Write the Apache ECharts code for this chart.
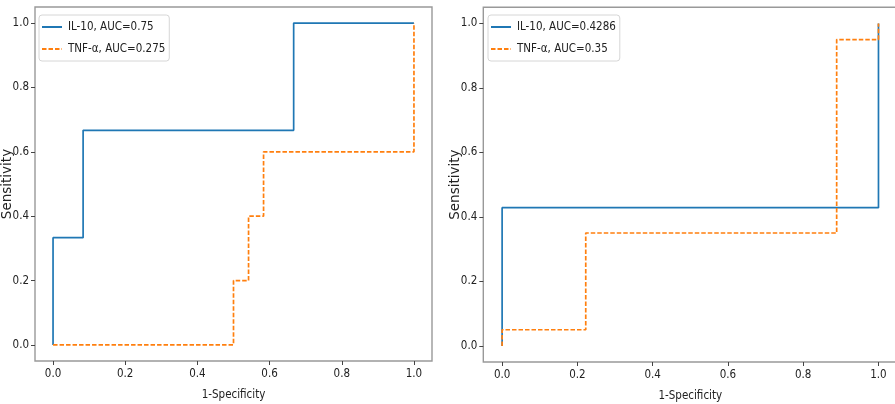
<!DOCTYPE html>
<html>
<head>
<meta charset="utf-8">
<script src="https://cdn.jsdelivr.net/npm/echarts@6/dist/echarts.min.js"></script>
<style>
html,body{margin:0;padding:0;background:#fff;}
#chart{width:895px;height:404px;}
</style>
</head>
<body>
<div id="chart"></div>
<script>
// ---- data (ROC vertices) ----
var leftIL10Fpr  = [0, 0,      0.0833, 0.0833, 0.6667, 0.6667, 1];
var leftIL10Tpr  = [0, 0.3333, 0.3333, 0.6667, 0.6667, 1,      1];
var leftTNFFpr   = [0, 0.5, 0.5, 0.5417, 0.5417, 0.5833, 0.5833, 1,   1];
var leftTNFTpr   = [0, 0,   0.2, 0.2,    0.4,    0.4,    0.6,    0.6, 1];
var rightIL10Fpr = [0, 0,      1,      1];
var rightIL10Tpr = [0, 0.4286, 0.4286, 1];
var rightTNFFpr  = [0, 0,    0.2222, 0.2222, 0.8889, 0.8889, 1,    1];
var rightTNFTpr  = [0, 0.05, 0.05,   0.35,   0.35,   0.95,   0.95, 1];
var leftNames  = ['IL-10, AUC=0.75', 'TNF-\u03b1, AUC=0.275'];
var rightNames = ['IL-10, AUC=0.4286', 'TNF-\u03b1, AUC=0.35'];
var tickValues = [0, 0.2, 0.4, 0.6, 0.8, 1.0];
var xAxisTitle = '1-Specificity';
var yAxisTitle = 'Sensitivity';

var BLUE = '#1f77b4', ORANGE = '#ff7f0e';
var NARROW = "'DejaVu Sans Condensed','DejaVu Sans',sans-serif";

function pairs(xs, ys){ return xs.map(function(x,i){ return [x, ys[i]]; }); }

function makeAxis(idx, isX){
  return {
    type: 'value', gridIndex: idx, min: -0.05, max: 1.05,
    name: isX ? xAxisTitle : yAxisTitle,
    nameLocation: 'middle',
    nameGap: isX ? 28 : 21,
    nameMoveOverlap: false,
    nameTextStyle: isX ? {fontFamily: NARROW, fontSize: 11.5, color: '#222'}
                       : {fontFamily: "'DejaVu Sans',sans-serif", fontSize: 13.5, color: '#222'},
    splitLine: {show: false},
    axisLine: {show: false, onZero: false},
    axisTick: {show: true, length: 4, customValues: tickValues, lineStyle: {color: '#444', width: 1}},
    axisLabel: {show: true, customValues: tickValues, margin: isX ? 7 : 6,
      fontFamily: NARROW, fontSize: 11.5, color: '#222',
      formatter: function(v){ return v.toFixed(1); }}
  };
}

function mkSeries(name, xs, ys, color, dashed, idx){
  return {
    type: 'line', name: name, xAxisIndex: idx, yAxisIndex: idx,
    data: pairs(xs, ys), symbol: 'none', showSymbol: false,
    lineStyle: {color: color, width: 1.7, type: dashed ? [4.5, 2] : 'solid'},
    itemStyle: {color: color},
    animation: false, silent: true
  };
}

function mkLegend(names, left){
  return {
    data: names, orient: 'vertical', left: left, top: 15,
    itemWidth: 20, itemHeight: 14, itemGap: 10,
    padding: [6, 4, 6, 2],
    backgroundColor: 'rgba(255,255,255,0.9)',
    borderColor: '#d6d6d6', borderWidth: 1, borderRadius: 3,
    itemStyle: {opacity: 0},
    textStyle: {fontFamily: NARROW, fontSize: 11.5, color: '#222', padding: [0,0,0,1]},
    selectedMode: false
  };
}

var chart = echarts.init(document.getElementById('chart'), null, {renderer: 'canvas'});
chart.setOption({
  backgroundColor: '#fff',
  animation: false,
  grid: [
    {left: 35, top: 7, width: 397, height: 354, show: true, borderColor: '#999', borderWidth: 1.4,
     backgroundColor: 'transparent', containLabel: false, outerBoundsMode: 'none'},
    {left: 483.3, top: 7.3, width: 414, height: 354.7, show: true, borderColor: '#999', borderWidth: 1.4,
     backgroundColor: 'transparent', containLabel: false, outerBoundsMode: 'none'}
  ],
  xAxis: [makeAxis(0, true), makeAxis(1, true)],
  yAxis: [makeAxis(0, false), makeAxis(1, false)],
  legend: [mkLegend(leftNames, 39), mkLegend(rightNames, 488)],
  series: [
    mkSeries(leftNames[0], leftIL10Fpr, leftIL10Tpr, BLUE, false, 0),
    mkSeries(leftNames[1], leftTNFFpr, leftTNFTpr, ORANGE, true, 0),
    mkSeries(rightNames[0], rightIL10Fpr, rightIL10Tpr, BLUE, false, 1),
    mkSeries(rightNames[1], rightTNFFpr, rightTNFTpr, ORANGE, true, 1)
  ]
});
</script>
</body>
</html>
